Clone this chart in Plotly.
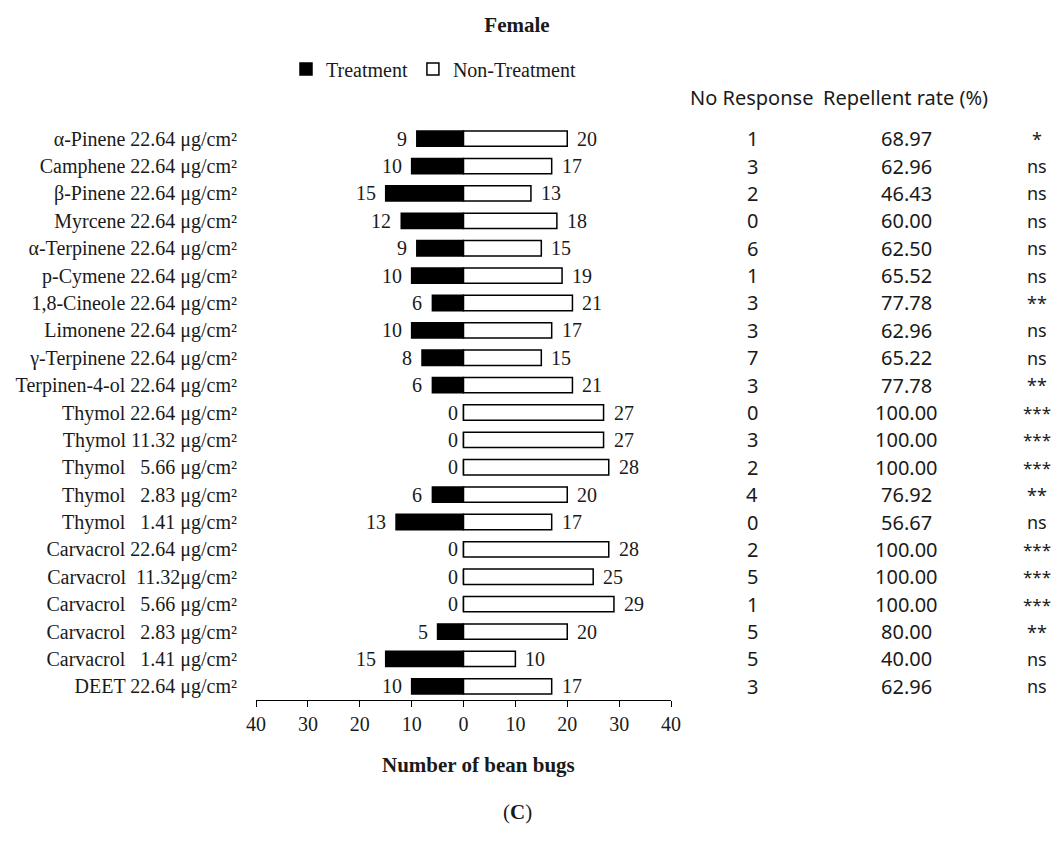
import plotly.graph_objects as go

labels = [
    "α-Pinene 22.64 μg/cm²", "Camphene 22.64 μg/cm²", "β-Pinene 22.64 μg/cm²",
    "Myrcene 22.64 μg/cm²", "α-Terpinene 22.64 μg/cm²", "p-Cymene 22.64 μg/cm²",
    "1,8-Cineole 22.64 μg/cm²", "Limonene 22.64 μg/cm²", "γ-Terpinene 22.64 μg/cm²",
    "Terpinen-4-ol 22.64 μg/cm²", "Thymol 22.64 μg/cm²", "Thymol 11.32 μg/cm²",
    "Thymol\u2007\u00a05.66 μg/cm²", "Thymol\u2007\u00a02.83 μg/cm²", "Thymol\u2007\u00a01.41 μg/cm²",
    "Carvacrol 22.64 μg/cm²", "Carvacrol\u00a0 11.32μg/cm²", "Carvacrol\u2007\u00a05.66 μg/cm²",
    "Carvacrol\u2007\u00a02.83 μg/cm²", "Carvacrol\u2007\u00a01.41 μg/cm²", "DEET 22.64 μg/cm²",
]
treatment = [9, 10, 15, 12, 9, 10, 6, 10, 8, 6, 0, 0, 0, 6, 13, 0, 0, 0, 5, 15, 10]
non_treatment = [20, 17, 13, 18, 15, 19, 21, 17, 15, 21, 27, 27, 28, 20, 17, 28, 25, 29, 20, 10, 17]
no_response = [1, 3, 2, 0, 6, 1, 3, 3, 7, 3, 0, 3, 2, 4, 0, 2, 5, 1, 5, 5, 3]
repellent_rate = ["68.97", "62.96", "46.43", "60.00", "62.50", "65.52", "77.78", "62.96",
                  "65.22", "77.78", "100.00", "100.00", "100.00", "76.92", "56.67",
                  "100.00", "100.00", "100.00", "80.00", "40.00", "62.96"]
significance = ["*", "ns", "ns", "ns", "ns", "ns", "**", "ns", "ns", "**", "***", "***",
                "***", "**", "ns", "***", "***", "***", "**", "ns", "ns"]
x_ticks = [-40, -30, -20, -10, 0, 10, 20, 30, 40]

W, H = 1052, 845
L, R, T, B = 256, 671, 125, 700
SERIF = "Liberation Serif"
SANS = "Noto Sans"
TXT = "#1a1a1a"

rows = list(range(len(labels)))


def px2paper_x(p):
    return (p - L) / (R - L)


def px2paper_y(p):
    return (B - p) / (B - T)


fig = go.Figure()
fig.add_trace(go.Bar(
    y=rows, x=[-v for v in treatment], orientation="h", name="Treatment",
    marker=dict(color="black", line=dict(color="black", width=1.5)), width=0.56,
))
fig.add_trace(go.Bar(
    y=rows, x=non_treatment, orientation="h", name="Non-Treatment",
    marker=dict(color="white", line=dict(color="black", width=1.5)), width=0.56,
))

annotations = []
for i in rows:
    annotations.append(dict(x=-treatment[i], y=i, xref="x", yref="y", text=str(treatment[i]),
                            showarrow=False, xanchor="right", yanchor="middle",
                            xshift=-8 if treatment[i] else -4,
                            font=dict(family=SERIF, size=20, color=TXT)))
    annotations.append(dict(x=non_treatment[i], y=i, xref="x", yref="y", text=str(non_treatment[i]),
                            showarrow=False, xanchor="left", yanchor="middle", xshift=8,
                            font=dict(family=SERIF, size=20, color=TXT)))
    annotations.append(dict(x=px2paper_x(752), y=i, xref="paper", yref="y", text=str(no_response[i]),
                            showarrow=False, xanchor="center", yanchor="middle",
                            font=dict(family=SANS, size=20, color=TXT)))
    annotations.append(dict(x=px2paper_x(906), y=i, xref="paper", yref="y", text=repellent_rate[i],
                            showarrow=False, xanchor="center", yanchor="middle",
                            font=dict(family=SANS, size=20, color=TXT)))
    annotations.append(dict(x=px2paper_x(1037), y=i, xref="paper", yref="y", text=significance[i],
                            showarrow=False, xanchor="center", yanchor="middle",
                            font=dict(family=SANS, size=18 if significance[i] != "***" else 17, color=TXT)))
annotations += [
    dict(x=px2paper_x(751), y=px2paper_y(97), xref="paper", yref="paper", text="No Response",
         showarrow=False, xanchor="center", yanchor="middle", font=dict(family=SANS, size=20, color=TXT)),
    dict(x=px2paper_x(905), y=px2paper_y(97), xref="paper", yref="paper", text="Repellent rate (%)",
         showarrow=False, xanchor="center", yanchor="middle", font=dict(family=SANS, size=20, color=TXT)),
    dict(x=px2paper_x(478), y=px2paper_y(765), xref="paper", yref="paper", text="<b>Number of bean bugs</b>",
         showarrow=False, xanchor="center", yanchor="middle", font=dict(family=SERIF, size=21, color=TXT)),
    dict(x=px2paper_x(517), y=px2paper_y(812), xref="paper", yref="paper", text="(<b>C</b>)",
         showarrow=False, xanchor="center", yanchor="middle", font=dict(family=SERIF, size=21, color=TXT)),
]

fig.update_layout(
    width=W, height=H,
    margin=dict(l=L, r=W - R, t=T, b=H - B, pad=0),
    paper_bgcolor="white", plot_bgcolor="white",
    barmode="relative",
    title=dict(text="<b>Female</b>", x=517 / W, xref="container", xanchor="center",
               y=1 - 25 / H, yref="container", yanchor="middle",
               font=dict(family=SERIF, size=21, color=TXT)),
    legend=dict(orientation="h", x=px2paper_x(286), xanchor="left", y=px2paper_y(69), yanchor="middle",
                font=dict(family=SERIF, size=20, color=TXT), itemwidth=30,
                bgcolor="rgba(0,0,0,0)", traceorder="normal"),
    xaxis=dict(range=[-40, 40], tickvals=x_ticks, ticktext=[str(abs(v)) for v in x_ticks],
               showline=True, linecolor="black", linewidth=1.2, ticks="outside", ticklen=6,
               tickcolor="black", tickwidth=1.2, showgrid=False, zeroline=False,
               tickfont=dict(family=SERIF, size=20, color=TXT), fixedrange=True),
    yaxis=dict(range=[len(labels) - 0.5, -0.5], tickvals=rows, ticktext=labels,
               showline=False, ticks="", showgrid=False, zeroline=False, ticklabelstandoff=18,
               tickfont=dict(family=SERIF, size=20, color=TXT)),
    yaxis2=dict(range=[len(labels) - 0.5, -0.5], overlaying="y", anchor="free", position=0.5,
                side="left", tickvals=[i - 0.5 for i in range(len(labels) + 1)],
                showticklabels=False, showline=True, linecolor="black", linewidth=1.5,
                ticks="outside", ticklen=5, tickcolor="black", tickwidth=1.2,
                showgrid=False, zeroline=False),
    annotations=annotations,
    showlegend=True,
)

fig.write_html("out.html", config={"displayModeBar": False},
               post_script="document.body.style.margin='0px';")
